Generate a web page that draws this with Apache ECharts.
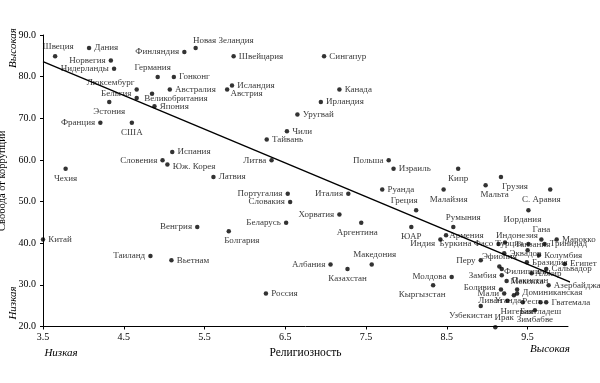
<!DOCTYPE html>
<html><head><meta charset="utf-8">
<script src="https://cdn.jsdelivr.net/npm/echarts@6/dist/echarts.min.js"></script>
<style>html,body{margin:0;padding:0;background:#fff}#c{width:600px;height:383px}</style>
</head><body><div id="c"></div>
<script>
// ---- data ----
const countries = ["Швеция","Дания","Норвегия","Нидерланды","Финляндия","Новая Зеландия","Швейцария","Сингапур","Германия","Гонконг","Люксембург","Австралия","Исландия","Австрия","Канада","Бельгия","Великобритания","Эстония","Япония","Ирландия","Уругвай","Франция","США","Чили","Тайвань","Испания","Словения","Юж. Корея","Литва","Польша","Израиль","Кипр","Чехия","Латвия","Грузия","Мальта","С. Аравия","Руанда","Малайзия","Португалия","Италия","Словакия","Греция","Иордания","Хорватия","Аргентина","Беларусь","Венгрия","Румыния","ЮАР","Болгария","Армения","Индия","Китай","Гана","Марокко","Буркина Фасо","Индонезия","Турция","Тринидад","Таиланд","Вьетнам","Эквадор","Танзания","Колумбия","Перу","Эфиопия","Бразилия","Египет","Албания","Македония","Казахстан","Сальвадор","Филиппины","Замбия","Алжир","Молдова","Пакистан","Кыргызстан","Азербайджан","Боливия","Мексика","Мали","Доминиканская\nРесп.","Уганда","Россия","Ливан","Нигерия","Бангладеш","Гватемала","Узбекистан","Зимбабве","Ирак"];
const religiosity = [3.65,4.07,4.34,4.38,5.25,5.39,5.86,6.98,4.92,5.12,4.66,5.07,5.84,5.78,7.17,4.66,4.85,4.32,4.88,6.94,6.65,4.21,4.60,6.52,6.27,5.10,4.98,5.04,6.33,7.78,7.84,8.64,3.78,5.61,9.17,8.98,9.78,7.70,8.46,6.53,7.28,6.56,8.12,9.51,7.17,7.44,6.51,5.41,8.58,8.06,5.80,8.49,8.42,3.50,9.67,9.86,9.14,9.22,9.51,9.71,4.83,5.09,9.21,9.50,9.64,8.92,9.15,9.49,9.96,7.06,7.57,7.27,9.73,9.18,9.18,9.55,8.56,9.24,8.33,9.76,9.17,9.37,9.21,9.37,9.33,6.26,9.25,9.44,9.66,9.73,8.92,9.59,9.10];
const corruptionFreedom = [84.9,86.9,83.9,81.9,85.9,86.9,84.9,84.9,79.9,79.9,76.9,76.9,77.9,76.9,76.9,74.9,75.9,73.9,72.9,73.9,70.9,68.9,68.9,66.9,64.9,61.9,59.9,58.9,59.9,59.9,57.9,57.9,57.9,55.9,55.9,53.9,52.9,52.9,52.9,51.9,51.9,49.9,47.9,47.9,46.9,44.9,44.9,43.9,43.9,43.9,42.9,41.9,40.9,40.9,40.9,40.9,39.8,40.2,39.8,39.8,36.9,35.9,37.6,38.3,37.1,35.9,34.4,35.4,35.0,34.9,34.9,33.8,33.8,33.8,32.3,32.8,31.9,30.9,29.9,29.9,28.9,28.9,27.9,27.9,27.5,27.9,26.2,25.8,25.8,25.8,24.9,23.9,19.8];
const trendX = [3.5, 10.12];
const trendY = [83.6, 29.9];
const xTicks = [3.5,4.5,5.5,6.5,7.5,8.5,9.5];
const yMin = 20, yMax = 90, yStep = 10;

// ---- label placement (style only): [position, dx, dy] ----
const place = {
 "Швеция":["top",3,0],"Норвегия":["left"],"Нидерланды":["left"],"Финляндия":["left"],"Новая Зеландия":["right",-8,-7],
 "Германия":["top",-5,0],"Люксембург":["left",3,-7],"Австрия":["right",-2,4],"Бельгия":["left",0,-4],
 "Великобритания":["right",-13,5],"Эстония":["bottom"],"Франция":["left"],"США":["bottom"],"Словения":["left"],
 "Юж. Корея":["right",0,2],"Литва":["left"],"Польша":["left"],"Кипр":["bottom"],"Чехия":["bottom"],
 "Грузия":["bottom",14,0],"Мальта":["bottom",9,0],"С. Аравия":["bottom",-9,0],"Малайзия":["bottom",5,0],"Португалия":["left"],
 "Италия":["left"],"Словакия":["left"],"Греция":["top",-12,0],"Иордания":["bottom",-6,0],"Хорватия":["left"],
 "Аргентина":["bottom",-4,0],"Беларусь":["left"],"Венгрия":["left"],"Румыния":["top",10,0],"ЮАР":["bottom"],
 "Болгария":["bottom",13,0],"Армения":["right",-2,0],"Индия":["left",0,4],"Гана":["top"],"Буркина Фасо":["left"],"Индонезия":["top",12,3],
 "Турция":["left"],"Таиланд":["left"],"Танзания":["top",5,4],"Перу":["left"],"Эфиопия":["top"],
 "Албания":["left"],"Македония":["top",3,0],"Казахстан":["bottom"],"Филиппины":["right",-3,3],"Замбия":["left"],
 "Алжир":["right",-2,0],"Молдова":["left"],"Кыргызстан":["bottom",-11,0],"Боливия":["left",0,-2],"Мексика":["top",10,2],
 "Мали":["left"],"Уганда":["bottom",-6,-4],"Ливан":["left"],"Нигерия":["bottom",-6,0],"Бангладеш":["bottom"],
 "Узбекистан":["bottom",-10,0],"Зимбабве":["bottom"],"Ирак":["top",9,0],"Доминиканская\nРесп.":["right",0,4]
};

const FONT = '"Liberation Serif", "DejaVu Serif", serif';
const points = countries.map((n,i)=>{
  const p = place[n] || ["right"];
  return { name:n, value:[religiosity[i], corruptionFreedom[i]], label:{position:p[0]} };
});

const chart = echarts.init(document.getElementById('c'), null, {renderer:'canvas'});
chart.setOption({
  animation:false,
  textStyle:{fontFamily:FONT},
  grid:{left:43, right:32, top:35, bottom:56.5, containLabel:false, outerBoundsMode:'none'},
  xAxis:{
    type:'value', min:3.5, max:10,
    name:'Религиозность', nameLocation:'middle', nameGap:18,
    nameTextStyle:{fontFamily:FONT, fontSize:11.5, color:'#000'},
    axisLine:{show:true, lineStyle:{color:'#000', width:1}},
    axisTick:{show:true, length:3, customValues:xTicks, lineStyle:{color:'#000'}},
    axisLabel:{customValues:xTicks, formatter:v=>v.toFixed(1), fontFamily:FONT, fontSize:10, color:'#000', margin:6},
    splitLine:{show:false}
  },
  yAxis:{
    type:'value', min:yMin, max:yMax, interval:yStep,
    name:'Свобода от коррупции', nameLocation:'middle', nameGap:25,
    nameTextStyle:{fontFamily:FONT, fontSize:10.5, color:'#000'},
    axisLine:{show:true, lineStyle:{color:'#000', width:1}},
    axisTick:{show:true, length:3, lineStyle:{color:'#000'}},
    axisLabel:{formatter:v=>v.toFixed(1), fontFamily:FONT, fontSize:10, color:'#000', margin:7},
    splitLine:{show:false}
  },
  graphic:[
    {type:'text', x:13, y:48, rotation:Math.PI/2, style:{text:'Высокая', font:'italic 11px '+FONT, fill:'#000', align:'center', verticalAlign:'middle'}},
    {type:'text', x:13, y:303, rotation:Math.PI/2, style:{text:'Низкая', font:'italic 11px '+FONT, fill:'#000', align:'center', verticalAlign:'middle'}},
    {type:'text', x:61, y:353, style:{text:'Низкая', font:'italic 11px '+FONT, fill:'#000', align:'center', verticalAlign:'middle'}},
    {type:'text', x:550, y:349, style:{text:'Высокая', font:'italic 11px '+FONT, fill:'#000', align:'center', verticalAlign:'middle'}}
  ],
  series:[
    {
      type:'line', data:trendX.map((x,i)=>[x,trendY[i]]), symbol:'none', clip:false,
      lineStyle:{color:'#000', width:1.3}, silent:true, z:3
    },
    {
      type:'scatter', data:points, symbol:'circle', symbolSize:4.5,
      itemStyle:{color:'#000'}, clip:false, z:4,
      label:{show:true, formatter:'{b}', fontFamily:FONT, fontSize:9, color:'#000', distance:3, lineHeight:9},
      labelLayout:function(params){
        const p = place[countries[params.dataIndex]] || ["right"];
        return {hideOverlap:false, dx:p[1]||0, dy:p[2]||0};
      }
    }
  ]
});
</script></body></html>
